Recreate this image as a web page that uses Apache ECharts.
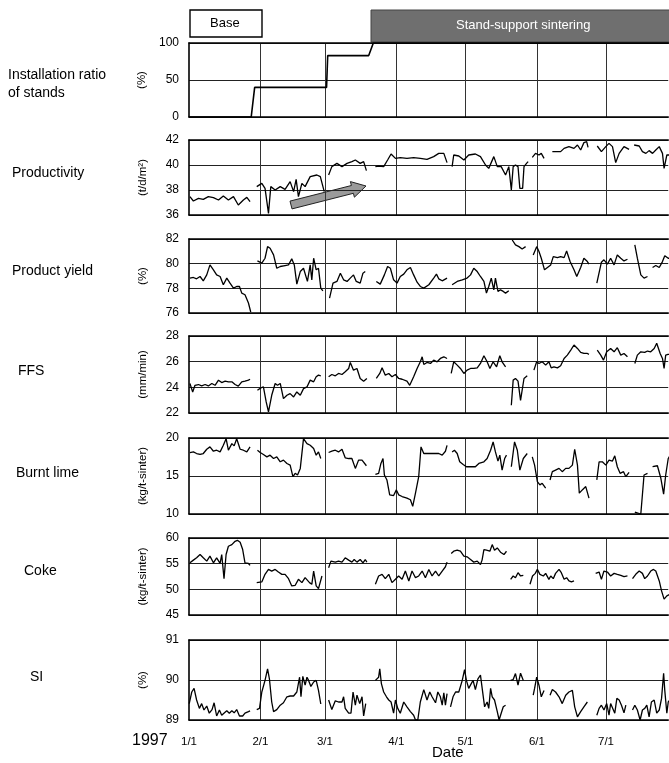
<!DOCTYPE html>
<html><head><meta charset="utf-8">
<script src="https://cdn.jsdelivr.net/npm/echarts@6/dist/echarts.min.js"></script>
<style>html,body{margin:0;padding:0;background:#fff}#c{width:669px;height:763px}</style>
</head><body><div id="c"></div>
<script>
// ---- data (x = days since 1997-01-01) ----
const monthDays = [31,28,31,30,31,30,28]; // visible span: 1/1 .. 7/28
const panelTitles = ['Installation ratio\nof stands','Productivity','Product yield','FFS','Burnt lime','Coke','SI'];
const unitNames = ['(%)','(t/d/m\u00B2)','(%)','(mm/min)','(kg/t-sinter)','(kg/t-sinter)','(%)'];
const yMin = [0,36,76,22,10,45,89];
const yMax = [100,42,82,28,20,60,91];
const yStep = [50,2,2,2,5,5,1];

const standRatio = [[[0,0],[27,0],[28.5,40],[59.7,40],[60.2,83],[78,83],[80,100],[212,100]]];

const productivity = [
 [[0.4,37.47],[1.9,37.12],[4.1,37.33],[6.2,37.25],[8.4,37.47],[10.6,37.39],[12.8,37.2],[14.9,37.52],[17.1,37.2],[19.3,37.47],[21.4,36.8],[23.6,37.2],[25.1,37.41],[26.5,37.07]],
 [[29.4,38.27],[31.6,38.53],[33,38.13],[34.5,36.13],[35.5,38.27],[37.4,38.0],[39.6,38.27],[41.7,38.05],[43.9,38.67],[45.4,37.87],[46.5,38.85],[47.5,37.47],[49,38.53],[50.4,38.27],[52.6,39.07],[55.5,39.2],[57,39.07],[58.7,37.87]],
 [[60.6,39.2],[62,39.87],[64.2,40.13],[66.4,39.87],[68.6,40.13],[70.7,40.27],[72.2,40.4],[74.3,40.13],[75.8,40.27],[77,39.55]],
 [[80.9,39.87],[82.3,39.92],[84.5,39.87],[86.2,40.4],[87.7,40.88],[89.6,40.53],[91.7,40.59],[94.6,40.53],[97.5,40.59],[100.4,40.53],[103.3,40.45],[106.2,40.67],[108.4,40.93],[110.6,40.93],[112,40.19]],
 [[114.2,39.87],[114.9,40.8],[117.1,40.72],[119.3,40.4],[121.4,40.8],[124.3,40.88],[126.5,40.67],[128.7,40.0],[130.1,39.73],[132.3,40.67],[133.8,39.87],[135.5,39.87],[137.4,39.2],[138.8,39.87],[139.9,38.0],[140.7,39.87],[141.7,40.0],[142.8,39.87],[143.6,38.13],[144.8,38.13],[145.4,39.87],[146.5,40.13],[147.2,40.27]],
 [[149,40.61],[150.4,40.93],[151.9,40.8],[152.9,40.93],[154.1,40.53]],
 [[157.7,41.07],[161.3,41.07],[162.8,41.33],[164.9,41.47],[167.1,41.33],[168.6,41.6],[170,41.2],[171.4,41.79],[172.6,41.87],[173.2,41.41]],
 [[177.2,41.52],[179,41.07],[180.9,41.47],[182.3,41.73],[183.8,41.47],[185.2,40.19],[186.7,40.93],[188.8,41.47],[191,41.25]],
 [[193.2,41.6],[195.4,41.52],[196.8,41.07],[198.3,40.93],[199.7,41.15],[201.2,40.93],[202.6,41.2],[204.1,41.47],[205.5,40.93],[206.2,39.73],[207.4,40.8],[208.7,40.8]]
];

const productYield = [
 [[0.4,78.83],[1.9,78.88],[3.3,78.77],[4.8,78.96],[6.2,78.61],[7.7,79.09],[9.1,79.9],[10.6,79.5],[12,79.09],[13.5,78.96],[14.9,78.29],[16.4,78.83],[17.8,78.42],[19.3,78.02],[20.7,78.15],[21.9,78.15],[22.9,77.61],[24.3,77.48],[25.8,76.81],[26.8,76.08]],
 [[29.7,80.22],[31.6,80.04],[33,80.44],[34.1,81.38],[35.2,81.25],[36.7,80.71],[38.1,79.63],[39.6,79.77],[41.7,79.85],[43.2,79.9],[44.6,80.39],[45.7,79.9],[46.8,78.34],[48.3,79.36],[49.7,79.63],[51.4,78.56],[52.6,79.9],[53.3,78.69],[54.1,80.44],[55.2,79.5],[56.2,79.63],[57.2,78.02],[58.1,77.8]],
 [[61,77.21],[62.5,78.42],[64.2,78.56],[65.7,79.23],[67.1,78.69],[68.6,78.56],[70,78.83],[71.4,79.09],[72.6,78.56],[74.3,78.42],[75.5,79.23],[76.5,79.36]],
 [[81.3,78.56],[83,78.34],[84.8,79.09],[86.2,79.77],[87.4,79.63],[88.8,78.69],[90.3,78.42],[91.7,78.96],[93.2,79.15],[94.6,79.5],[96.1,79.69],[97.5,79.09],[99,78.5],[100.4,78.15],[101.9,78.02],[104.1,78.29],[106.2,78.83],[107.4,79.15],[108.4,78.77],[109.9,78.61],[112,78.83]],
 [[114.2,78.29],[116.4,78.56],[118.6,78.69],[120.7,78.83],[122.2,79.09],[123.6,79.63],[125.1,79.36],[126.5,78.96],[128,78.56],[129.1,77.61],[130.1,78.15],[131.2,78.83],[132.3,77.88],[133,78.83],[134.1,77.75],[135.2,77.88],[136.4,77.75],[137.4,77.61],[138.8,77.8]],
 [[140.3,81.92],[141.7,81.52],[143.2,81.38],[144.6,81.19],[146.1,81.38]],
 [[149.4,80.71],[150.9,81.38],[151.9,80.98],[152.9,80.44],[154.3,79.5],[157,79.9],[158.1,80.57],[159.9,80.49],[161.3,80.57],[162.8,80.49],[163.9,81.03],[165.4,80.17],[167.1,79.5],[168.3,78.96],[170,79.69],[171.4,80.44],[172.9,80.17],[173.6,79.96]],
 [[177,78.42],[179,80.12],[180.1,80.31],[181.6,79.96],[183,80.44],[184.5,79.9],[185.9,80.71],[187.4,80.44],[188.8,80.22],[190.3,80.36]],
 [[193.5,81.52],[194.6,80.44],[196.1,79.09],[197.5,78.83],[199,78.96]],
 [[201.2,79.69],[202.6,79.85],[204.1,79.69],[205.5,80.17],[206.5,80.65],[208,80.44],[208.7,80.44]]
];

const ffs = [
 [[0.4,24.3],[1.6,23.64],[2.6,24.16],[4.1,24.22],[5.5,24.11],[7,24.22],[8.4,24.11],[9.9,24.3],[11.3,24.16],[12.8,24.56],[14.2,24.37],[15.7,24.48],[17.1,24.43],[18.6,24.43],[20,24.22],[21.4,24.09],[22.9,24.43],[24.3,24.48],[25.8,24.56],[26.5,24.63]],
 [[29.7,23.77],[31.2,23.96],[32.3,24.03],[33.5,22.86],[34.5,22.08],[35.9,23.38],[37.4,24.3],[38.4,24.16],[39.6,24.3],[41,23.12],[42.5,23.38],[43.9,23.51],[45.4,23.25],[46.8,23.64],[48.3,23.38],[49.7,23.9],[51.2,24.03],[52.6,24.56],[54.1,24.43],[55.2,24.82],[56.2,24.95],[57.2,24.9]],
 [[60.6,24.82],[62,25.0],[63.5,24.9],[64.9,25.08],[66.4,25.0],[67.8,25.21],[69.3,25.47],[70,25.94],[71.4,25.34],[72.9,25.47],[74.3,24.69],[75.8,24.48],[77.2,24.69]],
 [[81.3,24.69],[82.8,25.08],[83.8,25.52],[85.2,24.95],[86.7,25.08],[88.1,24.82],[89.6,25.0],[91,24.69],[92.5,24.63],[94.6,24.48],[95.8,24.16],[97.5,24.82],[99,25.47],[100.4,25.99],[101.2,26.38],[101.9,25.78],[103.3,25.94],[104.8,25.86],[106.2,26.12],[107.7,25.99],[109.1,26.25],[110.6,26.38],[112,26.25]],
 [[113.8,25.08],[114.9,25.99],[116.4,25.73],[117.8,25.47],[119.3,25.08],[120.7,25.34],[122.2,25.47],[123.6,25.47],[125.1,25.52],[126.5,25.86],[128,26.46],[129.4,25.99],[130.6,25.47],[132,25.99],[133.5,25.6],[134.9,26.46],[135.9,25.99],[137.4,25.6]],
 [[139.9,22.6],[140.7,24.56],[141.7,24.69],[142.8,24.48],[143.9,22.99],[145.4,24.69],[146.8,24.9]],
 [[149.7,25.34],[150.9,25.99],[151.9,25.86],[153.3,25.99],[154.8,25.73],[156.2,25.99],[157.2,25.52],[158.4,25.6],[159.9,25.52],[161.3,25.68],[162.8,26.25],[164.2,26.51],[165.7,26.9],[167.1,27.3],[168.6,27.03],[170,26.72],[171.4,26.64],[172.9,26.64],[173.6,26.57]],
 [[177.2,26.9],[178.7,26.51],[179.9,26.12],[181.3,26.77],[183,27.03],[184.5,26.77],[185.9,27.09],[187.4,26.51],[188.8,26.64],[190.3,26.38]],
 [[193.5,25.86],[194.6,26.51],[196.1,26.77],[197.8,26.72],[199,26.83],[200.4,26.77],[201.9,27.03],[203,27.43],[204.5,26.64],[205.5,26.25],[206.2,25.47],[206.9,26.51],[207.9,26.57],[208.7,26.57]]
];

const burntLime = [
 [[0.4,18.09],[1.9,18.17],[3.3,17.96],[4.8,17.83],[6.2,17.96],[7.7,18.52],[9.1,18.83],[10.6,18.26],[12,18.39],[13.5,18.17],[14.9,19.04],[16.1,19.91],[17.1,18.39],[18.6,19.26],[19.6,18.96],[20.7,19.91],[22.2,18.52],[23.6,18.39],[25.1,18.17],[26.5,18.83]],
 [[29.7,18.39],[30.9,18.09],[32.3,17.83],[33.8,17.52],[35.2,17.74],[36.7,17.3],[38.1,17.52],[39.6,16.87],[41,17.09],[42.5,16.65],[43.9,16.43],[45.1,14.91],[46.1,15.35],[47.1,15.13],[48.3,16.0],[49.7,19.91],[51.2,19.26],[52.6,19.04],[54.1,18.61],[55.2,17.74],[56.2,18.17],[57.2,17.3]],
 [[60.6,18.09],[62,18.26],[63.5,18.39],[64.9,18.17],[66.4,18.52],[67.8,17.39],[69.3,17.3],[70.7,17.3],[72.2,16.0],[73.6,17.09],[75.1,17.09],[77,16.35]],
 [[80.9,15.22],[82.3,15.35],[83.3,16.65],[84.2,17.3],[84.8,15.13],[85.9,14.48],[87.1,12.52],[88.8,12.43],[90,13.17],[91,12.52],[92.5,12.3],[94.6,12.09],[96.1,11.87],[97.1,11.0],[98.3,12.74],[99.7,14.91],[100.7,18.83],[101.9,17.96],[104.1,17.96],[106.2,17.96],[108.4,17.96],[109.9,17.74],[111.3,18.26],[112,19.04]],
 [[114.2,18.17],[115.2,18.39],[116.4,17.96],[117.5,16.87],[119,16.52],[120.4,16.22],[122.2,16.22],[124.3,16.22],[125.8,16.65],[128,16.87],[129.4,17.3],[130.9,18.39],[132,19.48],[133,18.17],[134.1,16.96],[134.9,17.74],[135.9,15.78],[137,17.3],[137.8,17.74]],
 [[139.9,16.22],[141.3,19.48],[142.5,18.39],[143.6,15.78],[145.1,17.3],[146.8,17.96]],
 [[149,17.52],[150,16.43],[151.2,14.26],[152.3,13.83],[153.3,14.04],[154.8,13.39]],
 [[156.7,14.48],[157.7,15.57],[159.1,15.78],[160.6,16.0],[162,15.57],[163.5,16.0],[164.9,16.0],[166.4,16.43],[167.4,18.52],[168.6,16.43],[169.4,12.74],[170.7,13.17],[172.2,13.61],[173.6,12.09]],
 [[177,14.48],[178,16.87],[179.4,16.87],[180.9,16.43],[182.3,17.09],[183.8,16.96],[184.8,17.65],[185.9,16.22],[187.1,15.35],[188.6,15.57],[189.6,14.91],[191,15.48]],
 [[193.5,10.26],[196.1,10.0],[197.5,15.13],[199,15.35]],
 [[201.2,16.22],[203.3,16.35],[204.8,14.7],[206,12.61],[206.9,15.13],[208,17.3],[208.7,17.65]]
];

const coke = [
 [[0.4,55.17],[1.9,55.69],[3.3,56.14],[4.8,56.78],[6.2,56.14],[7.7,55.49],[9.1,56.46],[10.6,55.17],[12,56.14],[13.5,55.04],[14.2,56.78],[15.2,52.08],[16.1,56.78],[17.1,58.39],[18.6,58.71],[20,59.36],[21,59.55],[22.2,59.16],[23.3,57.75],[24.3,55.17],[25.8,55.04],[26.5,54.66]],
 [[29.4,51.31],[31.6,51.44],[33,52.92],[34.5,53.88],[35.9,53.56],[37.4,53.88],[38.8,53.37],[40.3,52.92],[41.7,52.92],[43.2,52.08],[44.6,50.66],[46.1,50.79],[47.5,51.95],[49,51.31],[50.4,52.27],[51.2,52.6],[52.3,51.31],[53.3,50.98],[54.1,53.56],[55.2,50.66],[56.2,50.15],[57,50.15],[57.7,52.6]],
 [[60.6,54.2],[61.6,55.49],[63.5,55.3],[64.9,55.49],[66.4,55.3],[67.8,56.14],[69.3,55.69],[70.7,55.3],[71.7,55.81],[72.9,55.3],[74.3,55.81],[75.5,55.17],[76.5,55.81],[77.2,55.3]],
 [[80.9,50.98],[82.3,52.6],[83.8,52.92],[85.2,52.08],[86.7,52.92],[88.1,51.31],[89.6,51.95],[91,52.6],[92.5,51.95],[93.9,53.56],[95.4,51.63],[96.8,53.56],[98.3,52.27],[99.7,52.6],[101.2,53.56],[102.6,52.27],[104.1,53.88],[105.5,52.6],[107,53.56],[108.4,52.6],[109.9,53.56],[111.3,54.4],[112,55.3]],
 [[113.8,56.97],[114.9,57.42],[116.4,57.62],[117.8,57.42],[119.3,56.46],[120.7,56.33],[122.2,55.81],[123.6,55.3],[125.1,55.49],[126.5,54.85],[127.2,55.69],[128,57.75],[129.1,57.62],[130.6,57.42],[131.6,58.71],[132.6,57.62],[133.8,58.07],[135.2,57.23],[136.7,56.78],[137.8,57.42]],
 [[139.6,51.95],[140.7,52.6],[141.7,52.27],[142.8,53.24],[143.9,52.6],[145.1,52.72]],
 [[148,50.98],[149.1,52.6],[150.3,53.11],[151.2,53.88],[152.3,52.92],[153.8,52.6],[154.8,53.11],[156.2,51.95],[157,52.6],[158.1,52.08],[159.1,53.11],[160.6,53.88],[161.6,53.24],[162.8,51.95],[163.9,52.27],[164.9,51.63],[166,51.44],[167.1,51.63]],
 [[176.5,53.11],[178,53.37],[179,51.95],[180.1,53.56],[181.6,53.37],[183,52.6],[184.5,53.11],[185.9,52.92],[187.4,52.72],[188.8,52.47],[190.3,52.6]],
 [[192.5,52.08],[193.9,52.92],[195.4,53.56],[196.8,53.11],[197.8,52.08],[199,52.6],[200.4,53.56],[201.6,53.88],[202.6,53.56],[204.1,51.63],[205.1,49.7],[206.2,48.09],[207.4,48.73],[208.7,49.05]]
];

const si = [
 [[0.1,89.41],[1.2,89.7],[2.2,89.79],[3.3,89.5],[4.5,89.29],[5.5,89.41],[6.5,89.25],[7.7,89.35],[8.8,89.17],[10,89.26],[10.9,89.43],[12,89.1],[13.2,89.25],[14.2,89.12],[15.4,89.18],[16.4,89.23],[17.5,89.17],[18.6,89.23],[19.6,89.18],[20.7,89.26],[21.9,89.1],[23.3,89.1],[24.3,89.17],[25.8,89.21],[26.5,89.23]],
 [[29.4,89.26],[30.6,89.29],[31.6,89.7],[33,89.99],[34.1,90.28],[34.9,90.03],[35.9,89.45],[36.7,89.21],[38.1,89.26],[39.6,89.37],[41,89.43],[42.5,89.58],[43.9,89.6],[45.4,89.6],[46.8,89.7],[47.5,89.7],[48,90.07],[48.6,89.58],[49.4,90.09],[50.4,89.87],[51.2,90.07],[51.9,89.99],[52.9,89.84],[54.1,89.95],[55.2,89.99],[56.2,89.74],[57.2,89.4]],
 [[60.6,89.5],[62,89.26],[63.5,89.48],[64.9,89.45],[66.4,89.45],[67.1,89.58],[67.8,89.29],[69.3,89.17],[70.3,89.17],[71.2,89.7],[72.2,89.37],[72.9,89.62],[74.1,89.41],[75.1,89.58],[75.8,89.1],[76.7,89.41]],
 [[80.9,89.99],[82.3,90.07],[82.8,90.28],[83.5,89.91],[84.5,89.7],[85.7,89.58],[86.7,89.5],[87.7,89.45],[88.8,89.17],[89.6,89.5],[90.6,89.29],[91.7,89.17],[93.2,89.45],[94.6,89.33],[96.1,89.21],[97.5,89.12],[98.3,89.0],[99.3,89.0],[100.4,89.45],[101.9,89.76],[103.3,89.5],[104.5,89.7],[105.5,89.58],[107,89.43],[108,89.7],[109.1,89.58],[109.9,89.37],[110.6,89.68],[111.3,89.37],[112,89.66]],
 [[113.5,89.33],[114.6,89.58],[115.7,89.7],[117.1,89.7],[118.6,89.99],[119.6,90.26],[120.4,89.99],[121.4,89.79],[122.5,89.91],[123.3,89.99],[124.3,89.76],[125.4,90.03],[126.5,90.12],[127.2,90.07],[128.3,89.33],[129.4,89.45],[130.1,89.29],[130.9,89.79],[131.6,89.58],[132.6,89.5],[133.8,89.21],[134.6,89.0],[135.5,89.17],[136.4,89.33],[137.4,89.37]],
 [[139.6,89.99],[140.7,90.01],[141.7,90.16],[142.8,89.87],[143.9,90.17],[145.1,89.99]],
 [[149.4,89.62],[150,89.79],[150.9,90.07],[151.9,89.87],[152.9,89.58],[154.1,89.74]],
 [[156.7,89.62],[157.7,89.76],[159.1,89.7],[160.6,89.58],[162,89.41],[163.5,89.62],[164.9,89.7],[166.4,89.74],[167.4,89.33],[168.6,89.08],[170,89.21],[171.4,89.33],[172.9,89.45]],
 [[177,89.12],[178,89.29],[179,89.37],[180.1,89.25],[181.3,89.41],[182.3,89.12],[183,89.41],[183.8,89.45],[184.8,89.17],[185.7,89.54],[186.7,89.5],[187.7,89.37],[188.8,89.18],[189.6,89.37]],
 [[192.5,89.25],[193.5,89.37],[194.6,89.25],[195.8,89.0],[196.8,89.25],[197.8,89.29],[198.7,89.37],[199.7,89.08],[200.7,89.45],[201.9,89.5],[203,89.17],[204.1,89.25],[205.1,89.54],[206,90.17],[206.5,89.74],[207.4,89.17],[208,89.45],[208.7,89.5]]
];

const allSeries = [standRatio, productivity, productYield, ffs, burntLime, coke, si];

// ---- build ----
const dateLabels = [];
monthDays.forEach((n, m) => { for (let d = 1; d <= n; d++) dateLabels.push((m + 1) + '/' + d); });
const lastIdx = dateLabels.length - 1;

function joinSegs(segs) {
  const out = [];
  segs.forEach((s, i) => { if (i) out.push([s[0][0] - 0.05, null]); s.forEach(p => out.push(p)); });
  return out;
}

const FONT = 'Liberation Sans, Arial, Helvetica, sans-serif';
const tops = [43, 140, 239, 336, 438, 538, 640];
const heights = [74, 75, 74, 77, 76, 77, 80];
const GL = 189, GW = lastIdx * 2.304;

const isMonthStart = (idx) => dateLabels[idx].split('/')[1] === '1';
const border = { show: true, lineStyle: { color: '#000', width: 1.6 } };

const grid = [], xAxis = [], yAxis = [], series = [];
for (let i = 0; i < 7; i++) {
  grid.push({ left: GL, width: GW, top: tops[i], height: heights[i], show: false });
  xAxis.push({ gridIndex: i, type: 'category', data: dateLabels, boundaryGap: false, position: 'bottom',
    axisLine: border, axisTick: { show: false },
    axisLabel: { show: i === 6, interval: (idx) => isMonthStart(idx),
      margin: 16, fontSize: 11.5, color: '#000', fontFamily: FONT },
    splitLine: { show: true, interval: (idx) => idx > 0 && isMonthStart(idx),
      lineStyle: { color: '#333', width: 1 } } });
  xAxis.push({ gridIndex: i, type: 'value', min: 0, max: lastIdx, position: 'top',
    axisLine: border, axisTick: { show: false }, axisLabel: { show: false }, splitLine: { show: false } });
  yAxis.push({ gridIndex: i, type: 'value', min: yMin[i], max: yMax[i], interval: yStep[i],
    axisLine: border, axisTick: { show: false },
    splitLine: { show: true, lineStyle: { color: '#222', width: 1 } },
    axisLabel: { fontSize: 12, color: '#000', margin: 10, fontFamily: FONT },
    name: unitNames[i], nameLocation: 'middle', nameRotate: 90, nameGap: 40,
    nameTextStyle: { fontSize: 11.5, color: '#000', fontFamily: FONT } });
  series.push({ type: 'line', xAxisIndex: 2 * i + 1, yAxisIndex: i, data: joinSegs(allSeries[i]),
    showSymbol: false, connectNulls: false, silent: true, clip: true,
    lineStyle: { color: '#000', width: i === 0 ? 1.6 : 1.3 } });
}

const titleY = [84, 172, 270, 370, 472, 570, 676];
const titleX = [8, 12, 12, 18, 16, 24, 30];
const graphic = [];
panelTitles.forEach((t, i) => {
  graphic.push({ type: 'text', left: titleX[i], top: titleY[i] - (i === 0 ? 18 : 8),
    style: { text: t, fontSize: 14, fill: '#000', fontFamily: FONT, lineHeight: 18 } });
});
graphic.push({ type: 'text', left: 132, top: 733, style: { text: '1997', fontSize: 16, fill: '#000', fontFamily: FONT } });
graphic.push({ type: 'text', left: 432, top: 745, style: { text: 'Date', fontSize: 15, fill: '#000', fontFamily: FONT } });
// phase boxes
graphic.push({ type: 'rect', shape: { x: 190, y: 10, width: 72, height: 27 },
  style: { fill: '#fff', stroke: '#000', lineWidth: 1.4 } });
graphic.push({ type: 'text', left: 210, top: 17, style: { text: 'Base', fontSize: 13, fill: '#000', fontFamily: FONT } });
graphic.push({ type: 'rect', shape: { x: 371, y: 10, width: 305, height: 32 },
  style: { fill: '#6f6f6f', stroke: '#444', lineWidth: 1 } });
graphic.push({ type: 'text', left: 456, top: 19, style: { text: 'Stand-support sintering', fontSize: 13, fill: '#fff', fontFamily: FONT } });
// trend arrow
graphic.push({ type: 'polygon', shape: { points: [[290,201.1],[351.4,185.5],[350.4,181.6],[366,186],[354.4,197.2],[353.4,193.3],[292,208.9]] },
  style: { fill: '#9a9a9a', stroke: '#222', lineWidth: 1 } });

const chart = echarts.init(document.getElementById('c'), null, { renderer: 'canvas' });
chart.setOption({ animation: false, backgroundColor: '#fff', grid, xAxis, yAxis, series, graphic });
</script></body></html>
